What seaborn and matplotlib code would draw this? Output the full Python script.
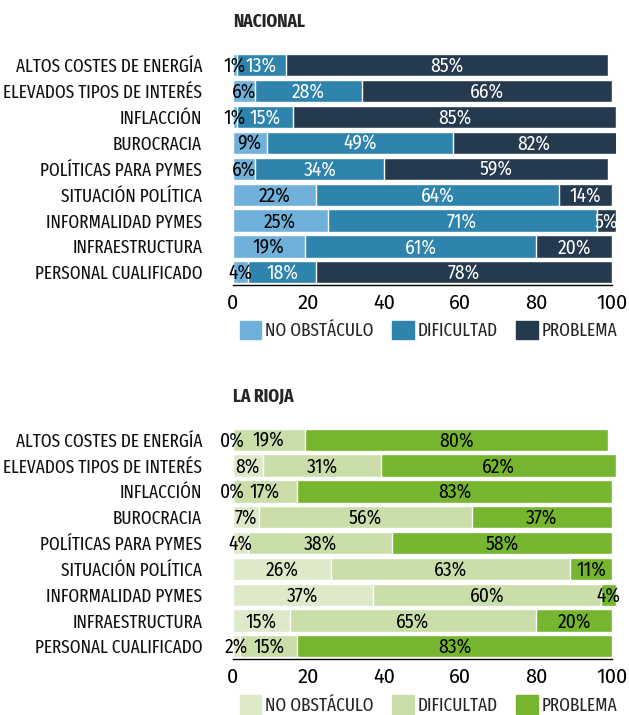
import numpy as np
import matplotlib
matplotlib.use("Agg")
import matplotlib.pyplot as plt
import pandas as pd
import seaborn as sns
from matplotlib.patches import Patch

sns.set_style("white")
plt.rcParams['font.family'] = ['Fira Sans Extra Condensed', 'Fira Sans Condensed',
                               'Barlow Condensed', 'DejaVu Sans']

categorias = ["ALTOS COSTES DE ENERGÍA", "ELEVADOS TIPOS DE INTERÉS", "INFLACCIÓN",
              "BUROCRACIA", "POLÍTICAS PARA PYMES", "SITUACIÓN POLÍTICA",
              "INFORMALIDAD PYMES", "INFRAESTRUCTURA", "PERSONAL CUALIFICADO"]
series = ["NO OBSTÁCULO", "DIFICULTAD", "PROBLEMA"]

# nacional
nac_no_obstaculo = [1, 6, 1, 9, 6, 22, 25, 19, 4]
nac_dificultad = [13, 28, 15, 49, 34, 64, 71, 61, 18]
nac_problema = [85, 66, 85, 82, 59, 14, 5, 20, 78]

# la rioja
rio_no_obstaculo = [0, 8, 0, 7, 4, 26, 37, 15, 2]
rio_dificultad = [19, 31, 17, 56, 38, 63, 60, 65, 15]
rio_problema = [80, 62, 83, 37, 58, 11, 4, 20, 83]

colores_nac = ["#6fb1db", "#2e84ad", "#263a4f"]
colores_rio = ["#dde9c8", "#c9dea8", "#76b52e"]
texto_nac = ["black", "white", "white"]
texto_rio = ["black", "black", "black"]

XMAX = 101
FS = 13.5
TICKFONT = ['Fira Sans', 'Lato', 'DejaVu Sans']
NUMFONT = ['Fira Sans Condensed', 'Barlow Condensed', 'DejaVu Sans']

fig = plt.figure(figsize=(6.29, 7.15), dpi=100)


def panel(rect, titulo, a, b, c, colores, colores_txt, legend_y):
    ax = fig.add_axes(rect)
    df = pd.DataFrame({"cat": categorias, "a": a, "b": b, "c": c})
    df["ab"] = df["a"] + df["b"]
    df["abc"] = df["ab"] + df["c"]
    # stacked bars: draw cumulative totals, longest first
    for col, color in zip(["abc", "ab", "a"], colores[::-1]):
        sns.barplot(data=df, x=col, y="cat", color=color, orient="h",
                    errorbar=None, width=0.86, saturation=1, ax=ax)
    for i, row in df.iterrows():
        fin = min(row["abc"], XMAX)
        centros = [row["a"] / 2, row["a"] + row["b"] / 2, (row["ab"] + fin) / 2]
        for cx, val, tc in zip(centros, [row["a"], row["b"], row["c"]], colores_txt):
            ax.text(cx, i + 0.04, f"{val}%", ha="center", va="center",
                    fontsize=14, family=NUMFONT, color=tc)
    ax.set_xlim(0, XMAX)
    ax.set_ylim(len(categorias) - 0.5, -0.5)
    ax.set_xlabel("")
    ax.set_ylabel("")
    ax.set_xticks([0, 20, 40, 60, 80, 100])
    ax.tick_params(axis="x", length=4, width=1, colors="black", pad=2)
    for t in ax.get_xticklabels():
        t.set_family(TICKFONT)
        t.set_fontsize(14.5)
    ax.tick_params(axis="y", length=0, labelsize=FS, pad=22, labelcolor="#111111")
    for s in ["top", "right", "left"]:
        ax.spines[s].set_visible(False)
    ax.spines["bottom"].set_bounds(0, 100)
    ax.spines["bottom"].set_color("black")
    ax.spines["bottom"].set_linewidth(1)
    fig.text(rect[0], rect[1] + rect[3] + 0.043, titulo, fontsize=FS,
             fontweight="bold", ha="left", va="center")
    handles = [Patch(color=c_) for c_ in colores]
    fig.legend(handles, series, loc="center left", ncol=3,
               bbox_to_anchor=(0.381, legend_y), frameon=False,
               fontsize=FS, handlelength=1.15, handleheight=1.15,
               handletextpad=0.2, columnspacing=1.0, borderaxespad=0,
               borderpad=0)
    return ax


ax1 = panel([0.370, 0.601, 0.609, 0.326], "NACIONAL", nac_no_obstaculo,
            nac_dificultad, nac_problema, colores_nac, texto_nac, 0.538)
ax2 = panel([0.370, 0.078, 0.609, 0.325], "LA RIOJA", rio_no_obstaculo,
            rio_dificultad, rio_problema, colores_rio, texto_rio, 0.014)

fig.savefig("out.png", dpi=100)
